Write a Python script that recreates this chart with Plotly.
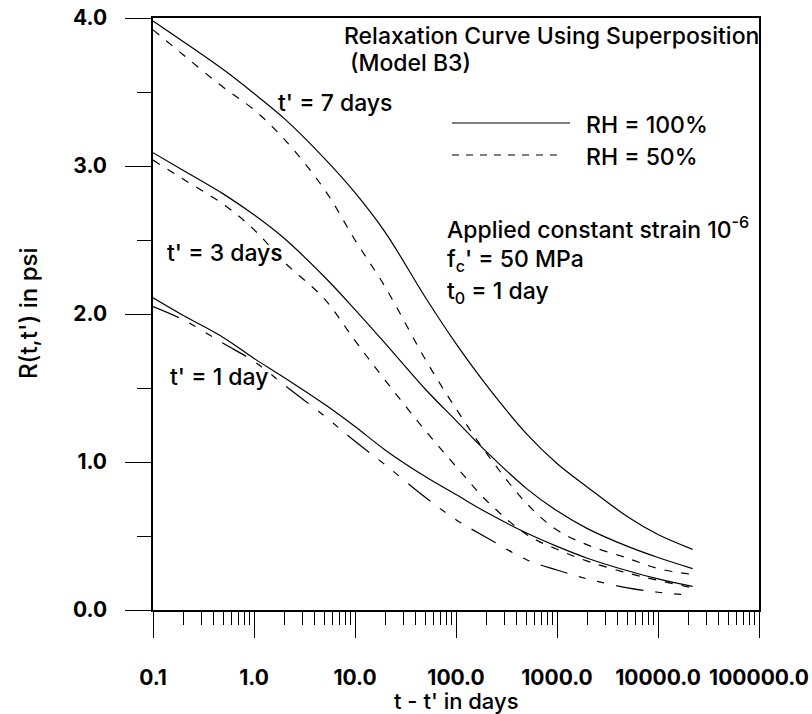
import plotly.graph_objects as go

# ---- data ----
t_days = [0.1, 0.2, 0.5, 1, 2, 5, 10, 20, 50, 100, 200, 500, 1000, 2000, 5000, 10000, 22000]

r_t7_rh100 = [3.98, 3.84, 3.65, 3.49, 3.32, 3.05, 2.82, 2.55, 2.11, 1.80, 1.52, 1.19, 0.99, 0.83, 0.63, 0.51, 0.41]
r_t7_rh50 = [3.92, 3.75, 3.53, 3.38, 3.18, 2.84, 2.50, 2.18, 1.69, 1.36, 1.06, 0.72, 0.54, 0.44, 0.35, 0.28, 0.24]
r_t3_rh100 = [3.09, 2.97, 2.81, 2.67, 2.51, 2.25, 2.03, 1.80, 1.49, 1.28, 1.07, 0.82, 0.67, 0.55, 0.43, 0.355, 0.28]
r_t3_rh50 = [3.04, 2.91, 2.74, 2.57, 2.35, 2.10, 1.82, 1.55, 1.21, 0.97, 0.74, 0.51, 0.41, 0.33, 0.25, 0.20, 0.15]
r_t1_rh100 = [2.11, 1.99, 1.84, 1.70, 1.57, 1.39, 1.24, 1.08, 0.90, 0.78, 0.66, 0.52, 0.43, 0.35, 0.265, 0.21, 0.16]
r_t1_rh50 = [2.05, 1.96, 1.80, 1.68, 1.52, 1.31, 1.14, 0.98, 0.76, 0.61, 0.49, 0.34, 0.27, 0.21, 0.15, 0.12, 0.10]

x_tickvals = [0.1, 1, 10, 100, 1000, 10000, 100000]
x_ticktext = ["0.1", "1.0", "10.0", "100.0", "1000.0", "10000.0", "100000.0"]
x_minorvals = [k * 10 ** e for e in range(-1, 5) for k in range(2, 10)]
y_tickvals = [0, 1, 2, 3, 4]
y_ticktext = ["0.0", "1.0", "2.0", "3.0", "4.0"]
y_minorvals = [0.5, 1.5, 2.5, 3.5]

FONT = "Inter"
SHORT_DASH = "8px,9px"
LONG_DASH = "28px,12px,7px,12px,7px,12px"

fig = go.Figure()

series = [
    (r_t7_rh100, "solid"),
    (r_t7_rh50, SHORT_DASH),
    (r_t3_rh100, "solid"),
    (r_t3_rh50, SHORT_DASH),
    (r_t1_rh100, "solid"),
    (r_t1_rh50, LONG_DASH),
]
for vals, dash in series:
    fig.add_trace(go.Scatter(
        x=t_days, y=vals, mode="lines",
        line=dict(color="black", width=1.2, dash=dash, shape="spline", smoothing=1.0),
        showlegend=False, hoverinfo="x+y",
    ))

axis_common = dict(
    showline=True, linecolor="black", linewidth=1.5, mirror=True,
    showgrid=False, zeroline=False, automargin=False,
    ticks="outside", tickcolor="black", tickwidth=1.2, ticklen=26,
    tickfont=dict(family=FONT, size=21, color="black", weight="bold"),
)

fig.update_xaxes(
    type="log", range=[-1, 5],
    tickmode="array", tickvals=x_tickvals, ticktext=x_ticktext,
    minor=dict(tickmode="array", tickvals=x_minorvals, ticks="outside", ticklen=13,
               tickcolor="black", tickwidth=1.0, showgrid=False),
    ticklabelstandoff=22,
    **axis_common,
)
fig.update_yaxes(
    range=[0, 4],
    tickmode="array", tickvals=y_tickvals, ticktext=y_ticktext,
    minor=dict(tickmode="array", tickvals=y_minorvals, ticks="outside", ticklen=14,
               tickcolor="black", tickwidth=1.0, showgrid=False),
    ticklabelstandoff=14,
    **axis_common,
)

def px2paper(px, py):
    return (px - 153) / 606, (610 - py) / 592

def add_text(text, px, py, size=23, xanchor="left", angle=0, weight=500):
    x, y = px2paper(px, py)
    fig.add_annotation(text=text, x=x, y=y, xref="paper", yref="paper",
                       xanchor=xanchor, yanchor="middle", showarrow=False,
                       textangle=angle,
                       font=dict(family=FONT, size=size, color="black", weight=weight))

# axis titles
add_text("t - t' in days", 456, 701, size=22, xanchor="center")
add_text("R(t,t') in psi", 28, 314, size=24, xanchor="center", angle=-90)

add_text("Relaxation Curve Using Superposition", 342, 36)
add_text("(Model B3)", 348, 63)
add_text("t' = 7 days", 276, 103)
add_text("t' = 3 days", 165, 253)
add_text("t' = 1 day", 168, 377)
add_text("RH = 100%", 584, 125)
add_text("RH = 50%", 584, 157)
add_text("Applied constant strain 10<sup>-6</sup>", 445, 228)
add_text("f<sub>c</sub>' = 50 MPa", 445, 260)
add_text("t<sub>0</sub> = 1 day", 445, 292)

# legend line samples
for (x0, x1, py, dash) in [(452, 570, 123, "solid"), (452, 562, 155, "7px,7px")]:
    a0, b = px2paper(x0, py)
    a1, _ = px2paper(x1, py)
    fig.add_shape(type="line", x0=a0, x1=a1, y0=b, y1=b, xref="paper", yref="paper",
                  line=dict(color="black", width=1.2, dash=dash))

fig.update_layout(
    width=812, height=714,
    margin=dict(l=153, r=53, t=18, b=104),
    paper_bgcolor="white", plot_bgcolor="white",
    font=dict(family=FONT, color="black"),
)

fig.write_html("out.html", config={"displayModeBar": False},
               post_script="document.body.style.margin='0';")
